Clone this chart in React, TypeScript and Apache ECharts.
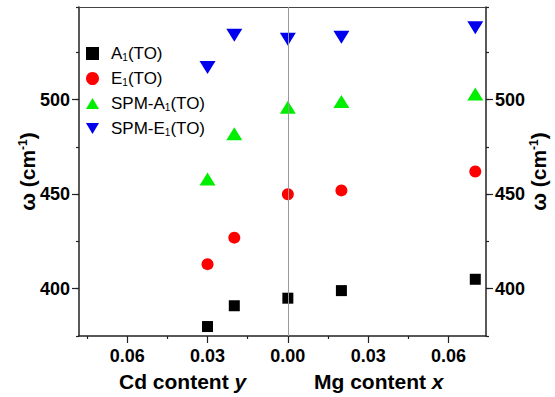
import React, { useEffect, useRef } from 'react';
import * as echarts from 'echarts';

// negative positions = Cd content y (left half), positive = Mg content x (right half)
const xPositions = [-0.03, -0.02, 0, 0.02, 0.07];
const a1TO = [380, 391, 395, 399, 405];
const e1TO = [413, 427, 450, 452, 462];
const spmA1TO = [458, 482, 496, 499, 503];
const spmE1TO = [517, 534, 532, 533, 538];
const seriesNames = ['A1(TO)', 'E1(TO)', 'SPM-A1(TO)', 'SPM-E1(TO)'];
const xMajorTicks = [-0.06, -0.03, 0, 0.03, 0.06];
const xMinorTicks = [-0.075, -0.045, -0.015, 0.015, 0.045];
const yMajorTicks = [400, 450, 500];
const leftTitle = 'Cd content ';
const leftVar = 'y';
const rightTitle = 'Mg content ';
const rightVar = 'x';

const FONT = '"Liberation Sans", Arial, sans-serif';
const UP = 'path://M10,0L20,17L0,17Z';
const DOWN = 'path://M0,0L20,0L10,17Z';

export default function App() {
  const ref = useRef<HTMLDivElement>(null);
  useEffect(() => {
    if (!ref.current) return;
    const chart = echarts.init(ref.current, undefined, { renderer: 'svg' });
    const pairs = (vals: number[]) => vals.map((v, i) => [xPositions[i], v]);
    const xMin = -0.078, xMax = 0.074, yMin = 375, yMax = 549;
    const axisColor = '#222';
    const yName = '{w|ω (cm}{sup|-1}{w|)}';
    const yNameStyle = {
      fontFamily: FONT,
      rich: {
        w: { fontSize: 21, fontWeight: 'bold', fontFamily: FONT, color: '#000' },
        sup: { fontSize: 12, fontWeight: 'bold', fontFamily: FONT, color: '#000', verticalAlign: 'top', padding: [0, 0, 8, 0] },
      },
    };
    const yLabelFmt = (v: number) => (v % 50 === 0 && v <= 500 ? String(v) : '');
    const baseY = (pos: string, name: string, gap: number) => ({
      type: 'value', position: pos, min: yMin, max: yMax, interval: 25,
      name, nameLocation: 'middle', nameRotate: 90, nameGap: gap, nameTextStyle: yNameStyle,
      nameMoveOverlap: false,
      axisLine: { show: true, onZero: false, lineStyle: { color: axisColor, width: 1.5 } },
      axisTick: { show: true, length: 3, lineStyle: { color: axisColor, width: 1.2 } },
      axisLabel: { formatter: yLabelFmt, fontSize: 18, fontWeight: 'bold', color: '#000', fontFamily: FONT, margin: 9 },
      splitLine: { show: false },
    });
    const majorY = (pos: string) => ({
      type: 'value', position: pos, min: yMin, max: yMax,
      axisLine: { show: false, onZero: false },
      axisTick: { show: true, length: 7, customValues: yMajorTicks, lineStyle: { color: axisColor, width: 1.2 } },
      axisLabel: { show: false },
      splitLine: { show: false },
    });
    const symbols = ['rect', 'circle', UP, DOWN];
    const sizes: any[] = [11, 12, [16, 13], [16, 13]];
    const colors = ['#000000', '#ff0000', '#00ee00', '#0000ee'];
    const datasets = [a1TO, e1TO, spmA1TO, spmE1TO];
    const series: any[] = datasets.map((d, i) => ({
      type: 'scatter', name: seriesNames[i], data: pairs(d),
      symbol: symbols[i], symbolSize: sizes[i],
      itemStyle: { color: colors[i], opacity: 1 },
      xAxisIndex: 0, yAxisIndex: 0,
    }));
    series[0].markLine = {
      silent: true, symbol: ['none', 'none'], label: { show: false },
      lineStyle: { color: '#999', width: 1, type: 'solid' },
      data: [{ xAxis: 0 }],
    };
    chart.setOption({
      animation: false,
      grid: { left: 79, right: 69, top: 7, bottom: 61, outerBoundsMode: 'none', containLabel: false },
      xAxis: [
        {
          type: 'value', position: 'bottom', min: xMin, max: xMax,
          axisLine: { show: true, onZero: false, lineStyle: { color: axisColor, width: 1.5 } },
          axisTick: { show: true, length: 3, customValues: xMinorTicks, lineStyle: { color: axisColor, width: 1.2 } },
          axisLabel: {
            customValues: xMajorTicks,
            formatter: (v: number) => Math.abs(v).toFixed(2),
            fontSize: 18, fontWeight: 'bold', color: '#000', fontFamily: FONT, margin: 11,
          },
          splitLine: { show: false },
        },
        {
          type: 'value', position: 'bottom', min: xMin, max: xMax,
          axisLine: { show: false, onZero: false },
          axisTick: { show: true, length: 7, customValues: xMajorTicks, lineStyle: { color: axisColor, width: 1.2 } },
          axisLabel: { show: false },
          splitLine: { show: false },
        },
        {
          type: 'value', position: 'top', min: xMin, max: xMax,
          axisLine: { show: true, onZero: false, lineStyle: { color: '#444', width: 1.2 } },
          axisTick: { show: false }, axisLabel: { show: false }, splitLine: { show: false },
        },
      ],
      yAxis: [baseY('left', yName, 41), baseY('right', yName, 42), majorY('left'), majorY('right')],
      legend: {
        orient: 'vertical', left: 81, top: 40, itemWidth: 13, itemHeight: 13, itemGap: 7.5,
        data: seriesNames.map((n, i) => ({ name: n, icon: symbols[i] })),
        formatter: (n: string) => '{t|' + n.replace('1', '}{s|1}{t|') + '}',
        textStyle: {
          padding: [0, 0, 0, 7],
          rich: {
            t: { fontSize: 17, fontFamily: FONT, color: '#000', lineHeight: 18 },
            s: { fontSize: 10, fontFamily: FONT, color: '#000', verticalAlign: 'bottom', lineHeight: 18, padding: [6, 0, 0, 0] },
          },
        },
      },
      graphic: [
        {
          type: 'text', left: 119, top: 371,
          style: {
            text: '{n|' + leftTitle + '}{i|' + leftVar + '}',
            rich: {
              n: { fontSize: 21, fontWeight: 'bold', fontFamily: FONT, fill: '#000' },
              i: { fontSize: 21, fontWeight: 'bold', fontStyle: 'italic', fontFamily: FONT, fill: '#000' },
            },
          },
        },
        {
          type: 'text', left: 314, top: 371,
          style: {
            text: '{n|' + rightTitle + '}{i|' + rightVar + '}',
            rich: {
              n: { fontSize: 21, fontWeight: 'bold', fontFamily: FONT, fill: '#000' },
              i: { fontSize: 21, fontWeight: 'bold', fontStyle: 'italic', fontFamily: FONT, fill: '#000' },
            },
          },
        },
      ],
      series,
    });
    return () => chart.dispose();
  }, []);
  return <div ref={ref} style={{ position: 'fixed', left: 0, top: 0, width: 555, height: 397, background: '#fff' }} />;
}
